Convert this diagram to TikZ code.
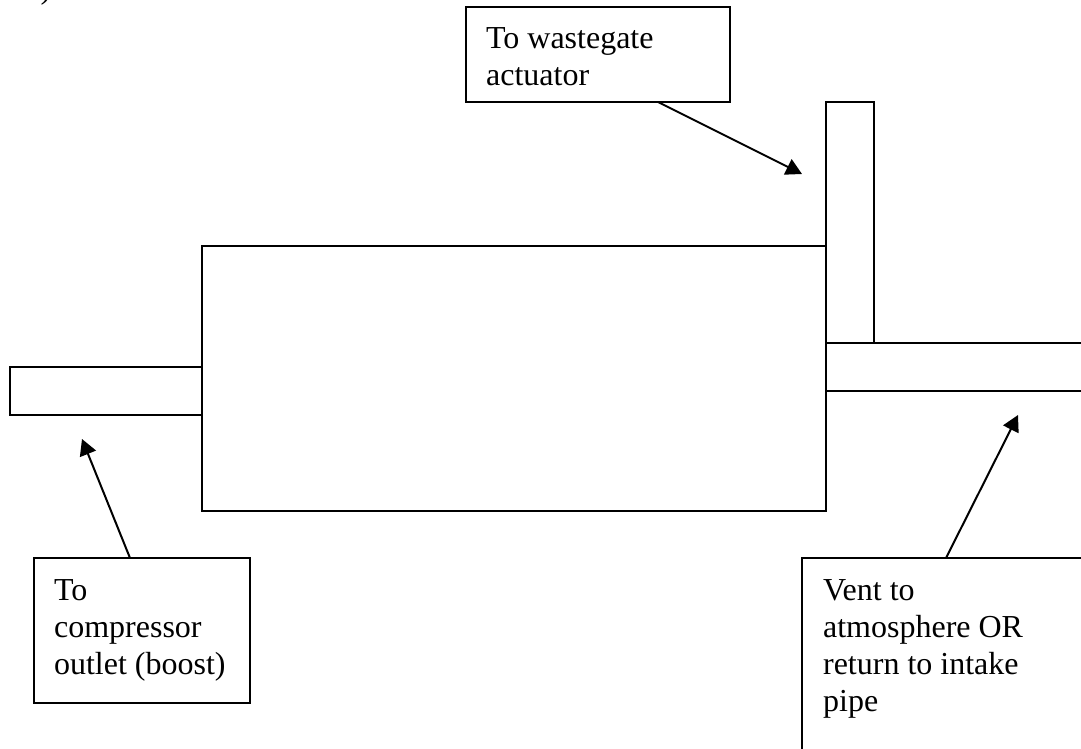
\documentclass[tikz,border=0pt]{standalone}
\usepackage{fontspec}
\setmainfont{Liberation Serif}
\usetikzlibrary{arrows.meta, positioning}

\begin{document}
\begin{tikzpicture}[
    x=1pt, y=-1pt,
    line width=2.2pt,
    pipebox/.style={rectangle, draw, inner sep=0pt, outer sep=0pt},
    labelbox/.style={rectangle, draw, inner sep=0pt, outer sep=0pt, anchor=north west},
    labeltext/.style={anchor=north west, align=left, inner sep=0pt, font=\fontsize{32}{37}\selectfont},
    arrow/.style={-{Triangle[length=16pt, width=17pt]}, line width=2pt}
]
\useasboundingbox (0,0) rectangle (1081,748);

% page fragment
\node[anchor=south, inner sep=0pt, font=\fontsize{32}{37}\selectfont] (fragment) at (46,6) {)};

% ============ VALVE BODY ============
\node[pipebox, minimum width=624pt, minimum height=265pt, anchor=north west] (body) at (202,246) {};
\node[pipebox, minimum width=192pt, minimum height=48pt, anchor=north west] (boostpipe) at (10,367) {};
\node[pipebox, minimum width=48pt, minimum height=241pt, anchor=north west] (gatepipe) at (826,102) {};

% vent pipe runs off the page
\coordinate (venttop) at (1081,343);
\coordinate (ventbottom) at (1081,391);
\draw (body.east |- venttop) -- (venttop);
\draw (body.east |- ventbottom) -- (ventbottom);

% ============ LABELS ============
\node[labelbox, minimum width=264pt, minimum height=95pt] (gatebox) at (466,7) {};
\node[labeltext] (gatetext) at (485,26) {To wastegate\\actuator};

\node[labelbox, minimum width=216pt, minimum height=145pt] (boostbox) at (34,558) {};
\node[labeltext] (boosttext) at (53,578) {To\\compressor\\outlet (boost)};

\node[labelbox, minimum width=300pt, minimum height=210pt] (ventbox) at (802,558) {};
\node[labeltext] (venttext) at (822,578) {Vent to\\atmosphere OR\\return to intake\\pipe};

% ============ ARROWS ============
\coordinate (gatetip) at (802,174);
\coordinate (boosttip) at (82,439);
\coordinate (venttip) at (1018,415);
\draw[arrow] (658,102) -- (gatetip);
\draw[arrow] (130,558) -- (boosttip);
\draw[arrow] (946,558) -- (venttip);

\end{tikzpicture}
\end{document}
